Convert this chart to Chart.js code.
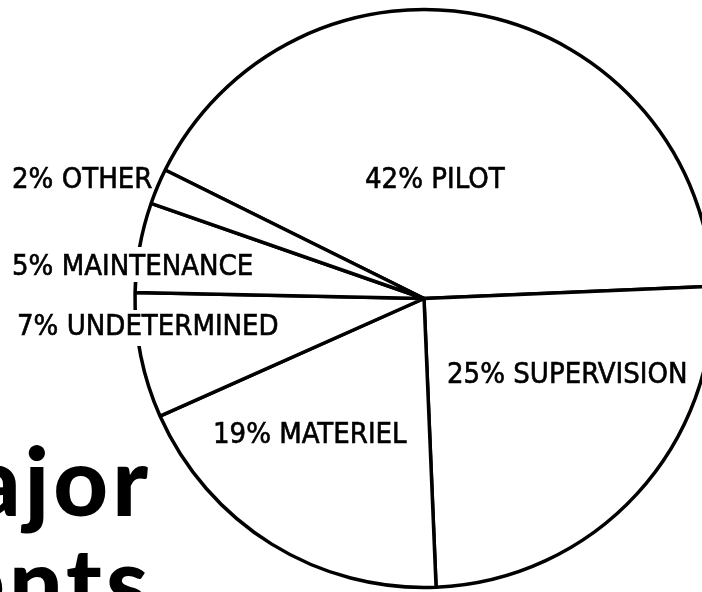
<!DOCTYPE html>
<html>
<head>
<meta charset="utf-8">
<title>Major Accidents</title>
<script src="https://cdn.jsdelivr.net/npm/chart.js@4"></script>
<style>
  html, body { margin: 0; padding: 0; background: #fff; }
  #chart { display: block; }
</style>
</head>
<body>
<canvas id="chart" width="702" height="592"></canvas>
<script>
const categories = ["PILOT", "SUPERVISION", "MATERIEL", "UNDETERMINED", "MAINTENANCE", "OTHER"];
const percents = [42, 25, 19, 7, 5, 2];
const titleLines = ["Major", "Accidents"];

// left x, baseline y, white box above / below baseline (only where a label sits on the rim)
const labelSpots = [
  [365, 188, 0, 0],
  [447, 383, 0, 0],
  [213, 443, 0, 0],
  [17, 335, 25, 11],
  [12, 275, 28, 7],
  [12, 188, 0, 0]
];

// big title, mostly cut off at the left edge
const bigTitle = {
  id: "bigTitle",
  beforeDatasetsDraw(chart) {
    const ctx = chart.ctx;
    ctx.save();
    ctx.font = "900 95px Lato";
    ctx.letterSpacing = "4px";
    ctx.textAlign = "right";
    ctx.textBaseline = "alphabetic";
    ctx.fillStyle = "#000";
    ctx.fillText(titleLines[0], 152, 516);
    ctx.fillText(titleLines[1], 152, 617);
    ctx.restore();
  }
};

const sliceLabels = {
  id: "sliceLabels",
  afterDatasetsDraw(chart) {
    const ctx = chart.ctx;
    ctx.save();
    ctx.font = '29px "DejaVu Sans Condensed"';
    ctx.textAlign = "left";
    ctx.textBaseline = "alphabetic";
    ctx.lineWidth = 0.6;
    categories.forEach((cat, i) => {
      const text = percents[i] + "% " + cat;
      const [x, y, up, down] = labelSpots[i];
      const w = ctx.measureText(text).width;
      if (up + down > 0) {
        ctx.fillStyle = "#fff";
        ctx.fillRect(x - 4, y - up, w + 8, up + down);
      }
      ctx.fillStyle = "#000";
      ctx.strokeStyle = "#000";
      ctx.fillText(text, x, y);
      ctx.strokeText(text, x, y);
    });
    ctx.restore();
  }
};

new Chart(document.getElementById("chart"), {
  type: "pie",
  data: {
    labels: categories,
    datasets: [{
      data: percents,
      backgroundColor: "#fff",
      borderColor: "#000",
      borderWidth: 3.5,
      clip: false
    }]
  },
  options: {
    responsive: false,
    animation: false,
    devicePixelRatio: 1,
    events: [],
    rotation: 296.4,
    radius: 289,
    layout: { padding: { left: 146, top: 5, right: 0, bottom: 0 } },
    plugins: {
      legend: { display: false },
      tooltip: { enabled: false }
    }
  },
  plugins: [bigTitle, sliceLabels]
});
</script>
</body>
</html>
